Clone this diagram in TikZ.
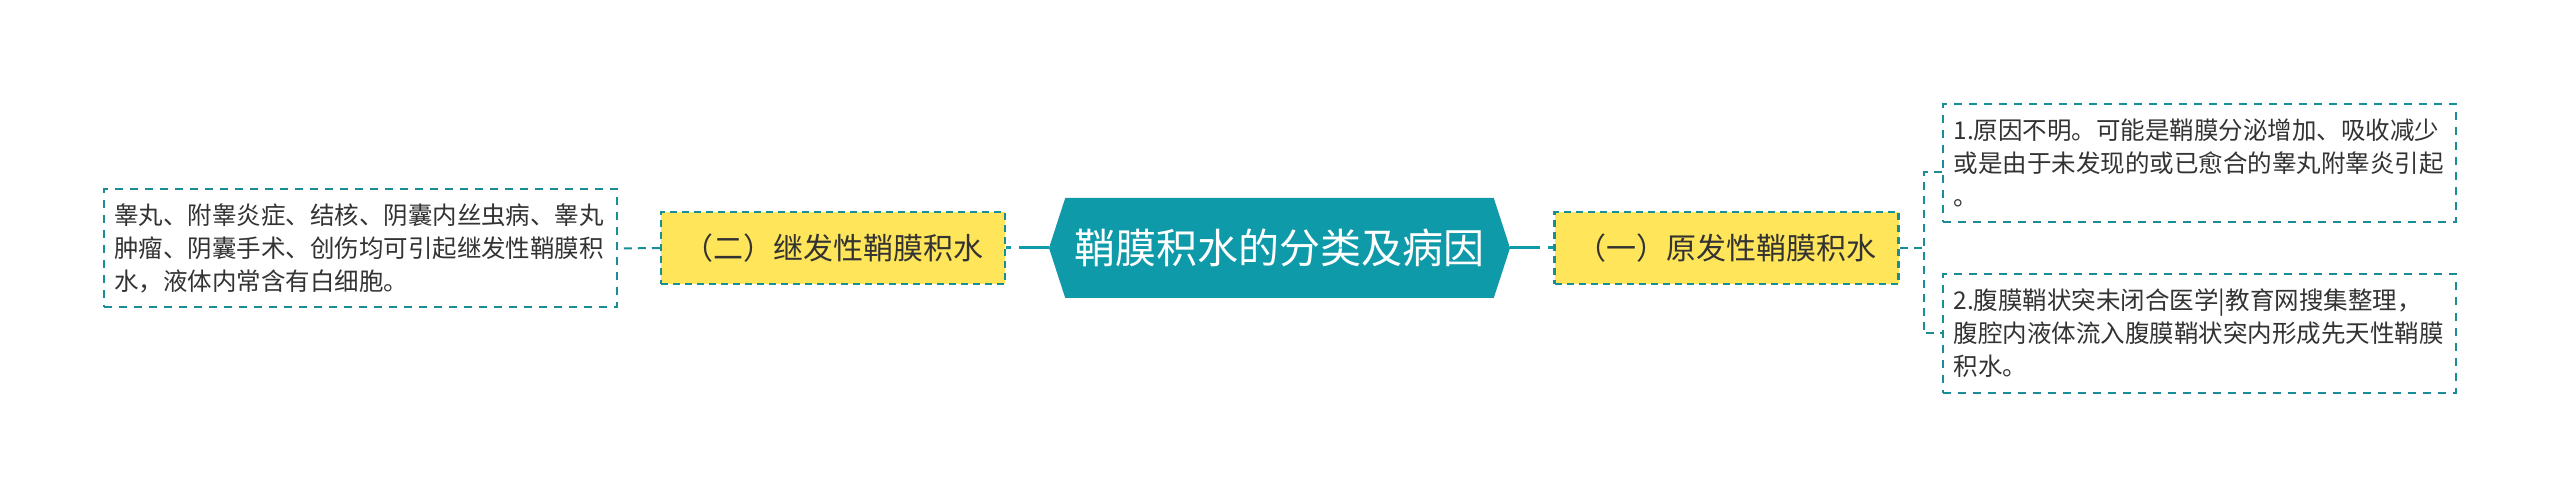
\documentclass[tikz,border=0pt]{standalone}
\usepackage{fontspec}
\setmainfont{Noto Sans CJK SC}
\usepackage{tikz}
\usetikzlibrary{calc}
\usetikzlibrary{positioning}
\usetikzlibrary{shapes.symbols}

\definecolor{hexteal}{HTML}{0E9AA9}
\definecolor{dashteal}{HTML}{1A8E98}
\definecolor{keyyellow}{HTML}{FFE55A}
\definecolor{inkgray}{HTML}{333333}

\tikzset{
  rootnode/.style={signal, signal to=east and west, signal pointer angle=144, fill=hexteal, text=white, minimum width=230.5pt, minimum height=50pt, inner sep=0pt, font=\fontsize{20.5pt}{24pt}\selectfont},
  keynode/.style={rectangle, draw=dashteal, line width=1.25pt, dash pattern=on 3.5pt off 2.5pt, fill=keyyellow, text=inkgray, minimum width=172pt, minimum height=36pt, inner sep=0pt, font=\fontsize{15pt}{18pt}\selectfont},
  notenode/.style={rectangle, draw=dashteal, line width=1pt, dash pattern=on 4pt off 3.5pt, fill=white, text=inkgray, text width=246pt, align=left, inner xsep=5.25pt, minimum height=59pt, font=\fontsize{12.25pt}{16.5pt}\selectfont},
  mainlink/.style={draw=hexteal, line width=1.5pt, dash pattern=on 15pt off 4pt on 3.5pt off 0pt},
  sublink/.style={draw=dashteal, line width=1pt, dash pattern=on 4pt off 3pt}
}

\begin{document}
\begin{tikzpicture}[x=0.5pt, y=-0.5pt]

%\draw[step=100, gray, very thin, dotted] (0,0) grid (2560,497);
\path[fill=white, use as bounding box] (0,0) rectangle (2560,497);

\node at (1279.5,248) [rootnode] (root) {鞘膜积水的分类及病因};

\node at (833,248) [keynode] (second) {（二）继发性鞘膜积水};
\node at (1726.5,248) [keynode] (first) {（一）原发性鞘膜积水};

\node at (360,248.5) [notenode] (secondnote)
		{睾丸、附睾炎症、结核、阴囊内丝虫病、睾丸\\肿瘤、阴囊手术、创伤均可引起继发性鞘膜积\\水，液体内常含有白细胞。};

\node at (2199.5,163) [notenode] (firstnotea)
		{1.原因不明。可能是鞘膜分泌增加、吸收减少\\或是由于未发现的或已愈合的睾丸附睾炎引起\\。};

\node at (2199.5,333.5) [notenode] (firstnoteb)
		{2.腹膜鞘状突未闭合医学|教育网搜集整理，\\腹腔内液体流入腹膜鞘状突内形成先天性鞘膜\\积水。};

\draw[mainlink] (root.east) -- (first.west);
\draw[mainlink] (root.west) -- (second.east);
\draw[sublink] (second.west) -- (secondnote.east);

\draw[sublink] (first.east) -- ++(12pt,0) coordinate (fork);
\draw[sublink] ([yshift=-4.5pt]firstnotea.west) -| (fork) |- (firstnoteb.west);

\end{tikzpicture}
\end{document}
